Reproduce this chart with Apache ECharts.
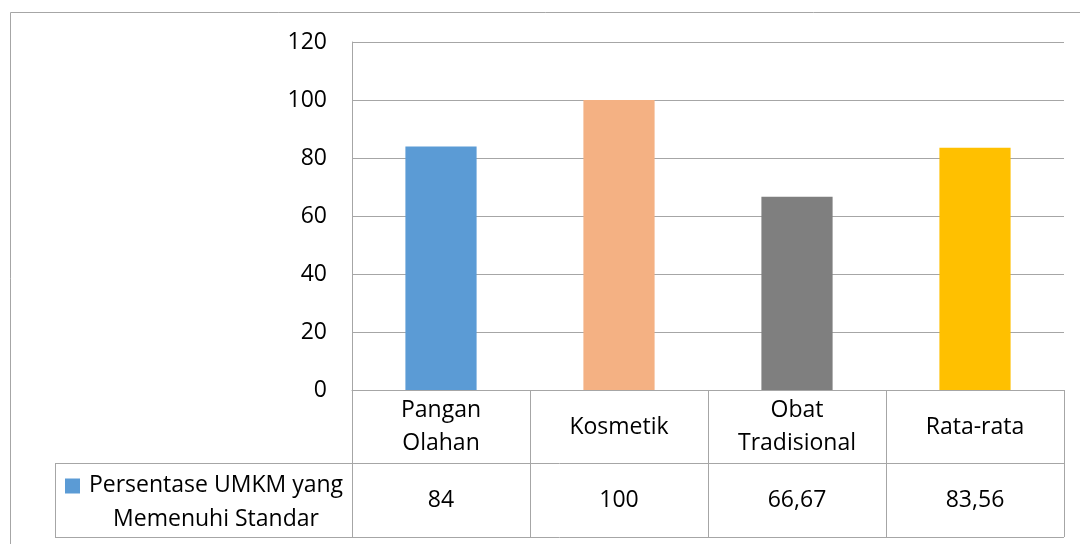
<!DOCTYPE html>
<html>
<head>
<meta charset="utf-8">
<script src="https://cdn.jsdelivr.net/npm/echarts@6/dist/echarts.min.js"></script>
<style>
  html, body { margin: 0; padding: 0; background: #fff; }
  #chart { width: 1080px; height: 544px; }
</style>
</head>
<body>
<div id="chart"></div>
<script>
// data
var categories = ['Pangan\nOlahan', 'Kosmetik', 'Obat\nTradisional', 'Rata-rata'];
var values = [84, 100, 66.67, 83.56];
var seriesName = 'Persentase UMKM yang\nMemenuhi Standar';
var barColors = ['#5B9BD5', '#F4B183', '#7F7F7F', '#FFC000'];

var lineColor = '#A6A6A6';
var font = 'Open Sans';

var myChart = echarts.init(document.getElementById('chart'));

// table values as text, decimal comma
var valueLabels = values.map(function (v) {
    return String(v).replace('.', ',');
});

var option = {
    animation: false,
    textStyle: { fontFamily: font },
    grid: {
        left: 352,
        right: 16,
        top: 42,
        bottom: 154
    },
    legend: {
        left: 65,
        top: 474,
        padding: 0,
        itemWidth: 15,
        itemHeight: 15,
        icon: 'rect',
        data: [seriesName],
        formatter: function (name) {
            return name.split('\n').map(function (s) {
                return '{t|' + s + '}';
            }).join('\n');
        },
        textStyle: {
            padding: [33, 0, 0, 0],
            rich: {
                t: {
                    width: 262,
                    align: 'center',
                    fontSize: 23,
                    lineHeight: 34,
                    fontFamily: font,
                    color: '#000'
                }
            }
        }
    },
    xAxis: [{
        type: 'category',
        data: categories,
        position: 'bottom',
        axisLine: { show: true, lineStyle: { color: lineColor, width: 1 } },
        axisTick: {
            show: true,
            interval: 0,
            length: 147,
            lineStyle: { color: lineColor, width: 1 }
        },
        axisLabel: {
            interval: 0,
            margin: 37,
            verticalAlign: 'middle',
            fontSize: 23,
            lineHeight: 33,
            color: '#000',
            fontFamily: font
        }
    }, {
        type: 'category',
        data: valueLabels,
        position: 'bottom',
        offset: 0,
        axisLine: { show: false },
        axisTick: { show: false },
        axisLabel: {
            interval: 0,
            margin: 110,
            verticalAlign: 'middle',
            fontSize: 23,
            color: '#000',
            fontFamily: font
        }
    }],
    yAxis: {
        type: 'value',
        min: 0,
        max: 120,
        interval: 20,
        axisLine: { show: true, lineStyle: { color: lineColor, width: 1 } },
        axisTick: { show: false },
        splitLine: { lineStyle: { color: lineColor, width: 1 } },
        axisLabel: {
            margin: 25,
            fontSize: 23,
            color: '#000',
            fontFamily: font
        }
    },
    series: [{
        name: seriesName,
        type: 'bar',
        barCategoryGap: '60%',
        itemStyle: { color: barColors[0] },
        data: values.map(function (v, i) {
            return { value: v, itemStyle: { color: barColors[i] } };
        })
    }],
    graphic: [
        // outer chart border
        {
            type: 'rect',
            shape: { x: 10.5, y: 12.5, width: 1200, height: 700 },
            style: { fill: null, stroke: lineColor, lineWidth: 1 },
            silent: true
        },
        // data table frame
        {
            type: 'line',
            shape: { x1: 55, y1: 463.5, x2: 1064, y2: 463.5 },
            style: { stroke: lineColor, lineWidth: 1 }
        },
        {
            type: 'line',
            shape: { x1: 55, y1: 537.5, x2: 1064, y2: 537.5 },
            style: { stroke: lineColor, lineWidth: 1 }
        },
        {
            type: 'line',
            shape: { x1: 55.5, y1: 463, x2: 55.5, y2: 538 },
            style: { stroke: lineColor, lineWidth: 1 }
        }
    ]
};
myChart.setOption(option);
</script>
</body>
</html>
